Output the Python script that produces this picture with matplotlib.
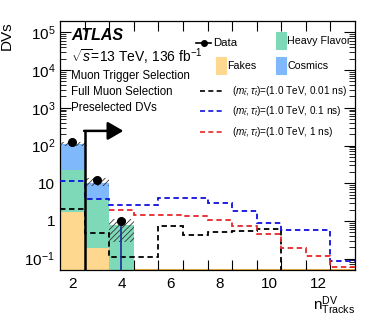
import numpy as np
import matplotlib
matplotlib.use("Agg")
import matplotlib.pyplot as plt
from matplotlib.lines import Line2D
from matplotlib.patches import Rectangle

plt.rcParams['font.family'] = ['Liberation Sans', 'DejaVu Sans']
plt.rcParams['mathtext.fontset'] = 'custom'
plt.rcParams['mathtext.rm'] = 'Liberation Sans'
plt.rcParams['mathtext.it'] = 'Liberation Sans:italic'
plt.rcParams['mathtext.bf'] = 'Liberation Sans:bold'
plt.rcParams['hatch.linewidth'] = 0.6

# ---------------- datos ----------------
bins = np.arange(2, 14)                       # n tracks
edges = np.arange(1.5, 14.0, 1.0)

fakes   = np.array([1.66, 0.166, 0, 0, 0, 0, 0, 0, 0, 0, 0, 0])
heavy   = np.array([20.3, 3.7, 0.75, 0, 0, 0, 0, 0, 0, 0, 0, 0])
cosmics = np.array([88.0, 6.1, 0, 0, 0, 0, 0, 0, 0, 0, 0, 0])
unc_lo  = np.array([99.0, 8.2, 0.28])         # banda de incertidumbre (bins 2-4)
unc_hi  = np.array([121.0, 13.5, 1.1])

data_x = np.array([2, 3, 4])
data_y = np.array([127.0, 11.9, 1.0])

sig_001 = np.array([2.1, 0.48, 0.11, 0.11, 0.72, 0.43, 0.52, 0.55, 0.62, 1e-3, 1e-3, 1e-3])
sig_01  = np.array([11.2, 3.9, 2.7, 2.7, 4.1, 4.0, 2.9, 1.8, 0.9, 0.56, 0.56, 0.087])
sig_1   = np.array([2.0, 1.47, 1.47, 1.34, 1.04, 0.74, 0.44, 0.196, 0.118, 0.06])  # desde bin 4

sig_labels = [r'$(m_{\tilde{t}},\tau_{\tilde{t}})$=(1.0 TeV, 0.01 ns)',
              r'$(m_{\tilde{t}},\tau_{\tilde{t}})$=(1.0 TeV, 0.1 ns)',
              r'$(m_{\tilde{t}},\tau_{\tilde{t}})$=(1.0 TeV, 1 ns)']

c_fake = '#fed88e'
c_hf   = '#7dd9b8'
c_cos  = '#80b9fb'

W, H = 374, 322
fig = plt.figure(figsize=(W/100, H/100), dpi=100)
ax = fig.add_axes([60/W, 1-270/H, 295/W, 249/H])
ymin, ymax = 0.05, 2e5

# fondo apilado
ax.axhline(ymin*1.03, color='#f5b94a', lw=1.5, zorder=1)
bottom = np.full(len(bins), ymin*0.5)
for vals, col in [(fakes, c_fake), (heavy, c_hf), (cosmics, c_cos)]:
    top = bottom + vals
    ax.bar(bins, top - bottom, bottom=bottom, width=1.0, color=col, lw=0, zorder=2)
    bottom = top

# incertidumbre
ax.bar(bins[:3], unc_hi - unc_lo, bottom=unc_lo, width=1.0, fill=False,
       hatch='//////', edgecolor='#333333', lw=0, zorder=3)

# señales
ax.stairs(sig_001, edges, baseline=None, color='k', ls=(0, (3, 2)), lw=1.3, zorder=4)
ax.stairs(sig_01, edges, baseline=None, color='#1010e0', ls=(0, (3, 2)), lw=1.3, zorder=4)
ax.stairs(sig_1, edges[2:], baseline=None, color='#e8262a', ls=(0, (3, 2)), lw=1.3, zorder=4)

# datos
ax.plot([4, 4], [ymin, 1.0], color='#1a2aa0', lw=1.2, zorder=5)
ax.plot(data_x, data_y, 'o', color='k', ms=5.5, zorder=6)

# flecha de seleccion
ax.plot([2.5, 2.5], [ymin, 244], color='k', lw=1.8, zorder=6)
ax.annotate('', xy=(4.08, 244), xytext=(2.48, 244),
            arrowprops=dict(arrowstyle='-|>,head_length=0.95,head_width=0.55',
                            color='k', lw=1.8, shrinkA=0, shrinkB=0), zorder=6)

ax.set_yscale('log')
ax.set_ylim(ymin, ymax)
ax.set_xlim(1.5, 13.5)

ax.set_xticks(np.arange(2.5, 13.5, 1.0))
ax.set_xticklabels([])
ax.set_xticks(np.arange(2, 13, 2), minor=True)
ax.set_xticklabels([str(v) for v in range(2, 13, 2)], minor=True)
ax.tick_params(axis='x', which='major', direction='in', length=7, width=0.8, top=True)
ax.tick_params(axis='x', which='minor', length=0, labelsize=11, pad=5)

yt = [1e-1, 1, 10, 1e2, 1e3, 1e4, 1e5]
ax.set_yticks(yt)
ax.set_yticklabels([r'$10^{-1}$', '1', '10', r'$10^{2}$', r'$10^{3}$', r'$10^{4}$', r'$10^{5}$'])
ax.tick_params(axis='y', which='major', direction='in', length=8, width=0.8, right=True, labelsize=11)
ax.tick_params(axis='y', which='minor', direction='in', length=4, width=0.6, right=True)
for s in ax.spines.values():
    s.set_linewidth(0.9)

ax.set_ylabel('DVs', fontsize=11, loc='top', labelpad=8)
fig.text(355/W, 1-306/H, r'$\mathrm{n}^{\mathrm{DV}}_{\mathrm{Tracks}}$', fontsize=11,
         ha='right', va='center')

# textos ATLAS
def fx(px): return px/W
def fy(py): return 1-py/H

fig.text(fx(71), fy(35), 'ATLAS', fontsize=11.5, fontweight='bold', style='italic', va='center')
fig.text(fx(71), fy(57), r'$\sqrt{s}$=13 TeV, 136 fb$^{-1}$', fontsize=10, va='center')
fig.text(fx(71), fy(76), 'Muon Trigger Selection', fontsize=8.3, va='center')
fig.text(fx(71), fy(92), 'Full Muon Selection', fontsize=8.3, va='center')
fig.text(fx(71), fy(108), 'Preselected DVs', fontsize=8.3, va='center')

# leyenda manual
fig.add_artist(Line2D([fx(196), fx(211)], [fy(43), fy(43)], color='k', lw=1.2))
fig.add_artist(Line2D([fx(204)], [fy(43)], marker='o', color='k', ms=4))
fig.text(fx(213), fy(43), 'Data', fontsize=8.2, va='center')
for px, py, col, lab in [(276, 41, c_hf, 'Heavy Flavor'), (216, 66, c_fake, 'Fakes'),
                         (276, 66, c_cos, 'Cosmics')]:
    fig.add_artist(Rectangle((fx(px), fy(py+8)), 10/W, 17/H, transform=fig.transFigure,
                             facecolor=col, edgecolor=col, lw=0.8))
    fig.text(fx(px+11), fy(py), lab, fontsize=7.7, va='center', zorder=10)

for py, col, lab in [(91, 'k', sig_labels[0]), (111, '#1010e0', sig_labels[1]),
                     (132, '#e8262a', sig_labels[2])]:
    fig.add_artist(Line2D([fx(200), fx(224)], [fy(py), fy(py)], color=col, lw=1.2,
                          ls=(0, (3, 2))))
    fig.text(fx(232), fy(py), lab, fontsize=7.2, va='center')

fig.savefig('out.png', dpi=100)
